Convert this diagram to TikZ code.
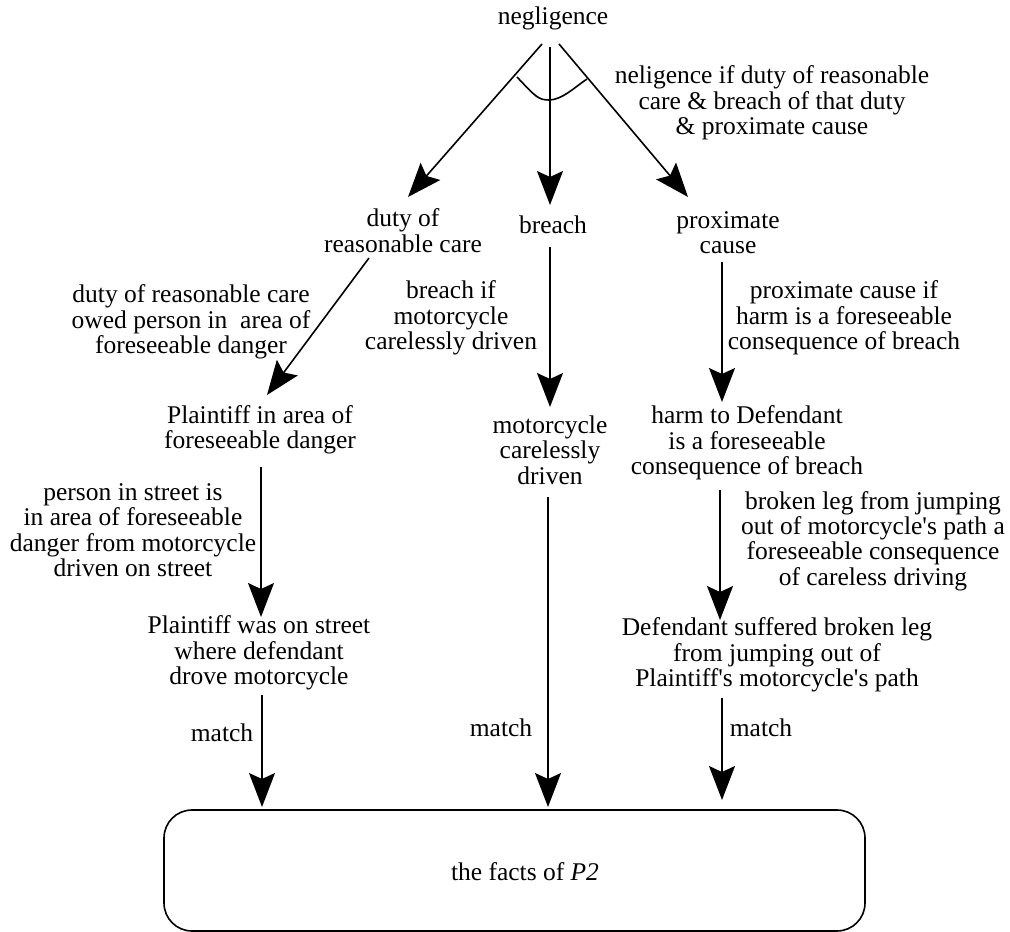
\documentclass[tikz,border=0pt]{standalone}
\usepackage{fontspec}
\setmainfont{Liberation Serif}
\usetikzlibrary{arrows.meta,calc}
\newcommand\sq{\textquotesingle}
\begin{document}
\begin{tikzpicture}[x=1pt,y=-1pt,
  every node/.style={inner sep=0pt,outer sep=0pt,align=center,
    font=\fontsize{25.5}{25.4}\selectfont},
  arr/.style={line width=1.6pt,-{Stealth[length=34pt,width=26pt,inset=6pt,fill=black]}},
  factbox/.style={draw,line width=1.6pt,rounded corners=28pt,
    minimum width=701pt,minimum height=121pt}]
\useasboundingbox (0,0) rectangle (1010,932);

% concepts
\node (neg)    at (553,18)    {negligence};
\node (duty)   at (403,230.5) {duty of\\reasonable care};
\node (breach) at (553,225)   {breach};
\node (prox)   at (728,232.5) {proximate\\cause};

% intermediate conclusions
\node (pia)  at (260,430) {Plaintiff in area of\\foreseeable danger};
\node (mcd)  at (550,450) {motorcycle\\carelessly\\driven};
\node (harm) at (747,443) {harm to Defendant\\is a foreseeable\\consequence of breach};

% facts reached
\node (pws)  at (259,653) {Plaintiff was on street\\where defendant\\drove motorcycle};
\node (dsuf) at (777,655) {Defendant suffered broken leg\\from jumping out of\\Plaintiff\sq s motorcycle\sq s path};

% the case
\node[factbox] (facts) at (514.5,870.5) {};
\node (factstxt) at (525,872) {the facts of \textit{P2}};

% rule labels
\node (lneg)   at (772,103) {neligence if duty of reasonable\\care \& breach of that duty\\\& proximate cause};
\node (lduty)  at (191,322) {duty of reasonable care\\owed person in~ area of\\foreseeable danger};
\node (lbr)    at (451,318) {breach if\\motorcycle\\carelessly driven};
\node (lprox)  at (844,318) {proximate cause if\\harm is a foreseeable\\consequence of breach};
\node (lpia)   at (133,530) {person in street is\\in area of foreseeable\\danger from motorcycle\\driven on street};
\node (lharm)  at (873,541) {broken leg from jumping\\out of motorcycle\sq s path a\\foreseeable consequence\\of careless driving};
\node (m1) at (222,733) {match};
\node (m2) at (501,728) {match};
\node (m3) at (761,728) {match};

% conjunction arc across the three branches
\draw[line width=1.6pt] (517,77) .. controls (535,96) and (538,100) .. (549,100)
  .. controls (562,100) and (575,87) .. (587,79);

% decomposition arrows
\draw[arr] ($(neg)+(-11,26)$) -- ($(duty)+(5,-33.5)$);
\draw[arr] ($(neg)+(-3,29)$)  -- ($(breach)+(-3,-20)$);
\draw[arr] ($(neg)+(6,26)$)   -- ($(prox)+(-40,-35.5)$);

\draw[arr] ($(duty)+(-34,27.5)$)  -- ($(pia)+(7,-35)$);
\draw[arr] ($(breach)+(-3,22)$)   -- ($(mcd)+(0,-43)$);
\draw[arr] ($(prox)+(-6,29.5)$)   -- ($(harm)+(-25,-41)$);

\draw[arr] ($(pia)+(1,37)$)   -- ($(pws)+(2,-36)$);
\draw[arr] ($(harm)+(-27,47)$) -- ($(dsuf)+(-57,-35)$);

% matching arrows into the case facts
\draw[arr] ($(pws)+(3,42)$)    -- ($(facts)+(-252.5,-63.5)$);
\draw[arr] ($(mcd)+(-2,47)$)   -- ($(facts)+(33.5,-63.5)$);
\draw[arr] ($(dsuf)+(-55,43)$) -- ($(facts)+(207.5,-70.5)$);
\end{tikzpicture}
\end{document}
